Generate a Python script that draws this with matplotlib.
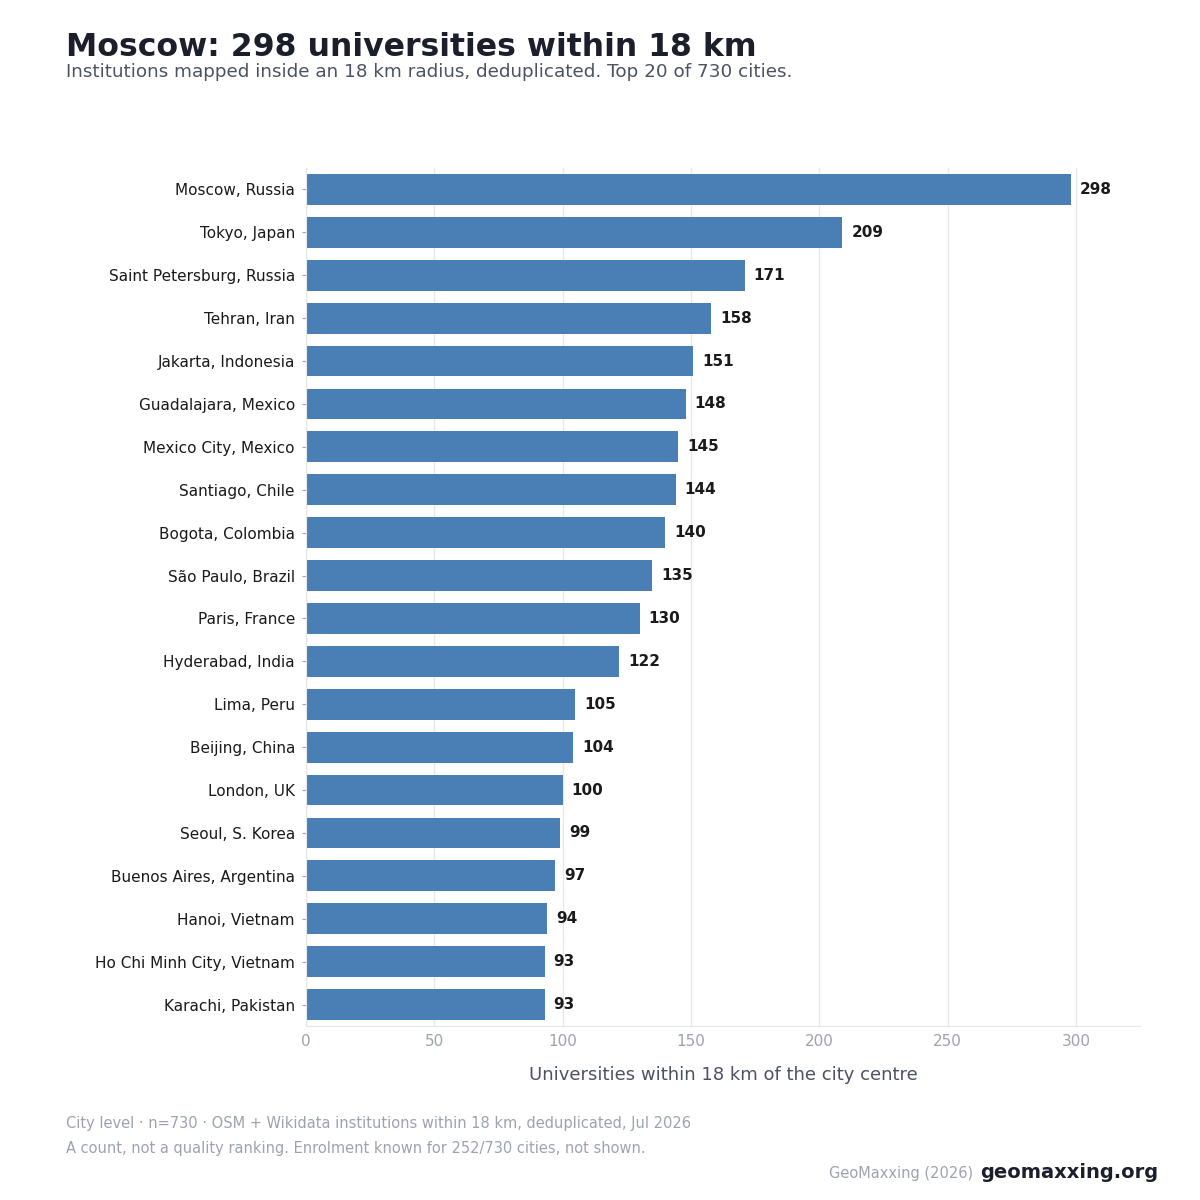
import matplotlib.pyplot as plt

cities = ["Moscow, Russia", "Tokyo, Japan", "Saint Petersburg, Russia", "Tehran, Iran",
          "Jakarta, Indonesia", "Guadalajara, Mexico", "Mexico City, Mexico", "Santiago, Chile",
          "Bogota, Colombia", "São Paulo, Brazil", "Paris, France", "Hyderabad, India",
          "Lima, Peru", "Beijing, China", "London, UK", "Seoul, S. Korea",
          "Buenos Aires, Argentina", "Hanoi, Vietnam", "Ho Chi Minh City, Vietnam", "Karachi, Pakistan"]
counts = [298, 209, 171, 158, 151, 148, 145, 144, 140, 135, 130, 122, 105, 104, 100, 99, 97, 94, 93, 93]

fig = plt.figure(figsize=(12, 12), dpi=100)
ax = fig.add_axes([0.255, 0.145, 0.695, 0.715])

y = list(range(len(cities)))
ax.barh(y, counts, height=0.72, color="#4a7fb5", zorder=2)
for yi, v in zip(y, counts):
    ax.text(v + 3.5, yi, str(v), va="center", ha="left", fontsize=11,
            fontweight="bold", color="#1a1a1a")

ax.set_yticks(y)
ax.set_yticklabels(cities, fontsize=11, color="#1a1a1a")
ax.set_ylim(len(cities) - 0.5, -0.5)
ax.set_xlim(0, 325)
ax.set_xticks([0, 50, 100, 150, 200, 250, 300])
ax.tick_params(axis="x", colors="#9ca3af", labelsize=11, length=0, pad=6)
ax.tick_params(axis="y", length=3, color="#9ca3af", pad=5)
ax.grid(axis="x", color="#e8e8e8", linewidth=1, zorder=0)
for s in ["top", "right"]:
    ax.spines[s].set_visible(False)
ax.spines["left"].set_color("#e5e7eb")
ax.spines["bottom"].set_color("#e5e7eb")
ax.set_xlabel("Universities within 18 km of the city centre", fontsize=13,
              color="#4b5263", labelpad=12)

fig.text(0.055, 0.96, "Moscow: 298 universities within 18 km", fontsize=22.7,
         fontweight="bold", color="#1a1f2b", va="center")
fig.text(0.055, 0.94, "Institutions mapped inside an 18 km radius, deduplicated. Top 20 of 730 cities.",
         fontsize=13.2, color="#4b5263", va="center")
fig.text(0.055, 0.064, "City level · n=730 · OSM + Wikidata institutions within 18 km, deduplicated, Jul 2026",
         fontsize=10.5, color="#9ca3af", va="center")
fig.text(0.055, 0.043, "A count, not a quality ranking. Enrolment known for 252/730 cities, not shown.",
         fontsize=10.5, color="#9ca3af", va="center")
fig.text(0.811, 0.022, "GeoMaxxing (2026)", fontsize=10.5, color="#9ca3af", va="center", ha="right")
fig.text(0.965, 0.023, "geomaxxing.org", fontsize=14, fontweight="bold", color="#1a1f2b",
         va="center", ha="right")

fig.savefig("out.png", dpi=100)
